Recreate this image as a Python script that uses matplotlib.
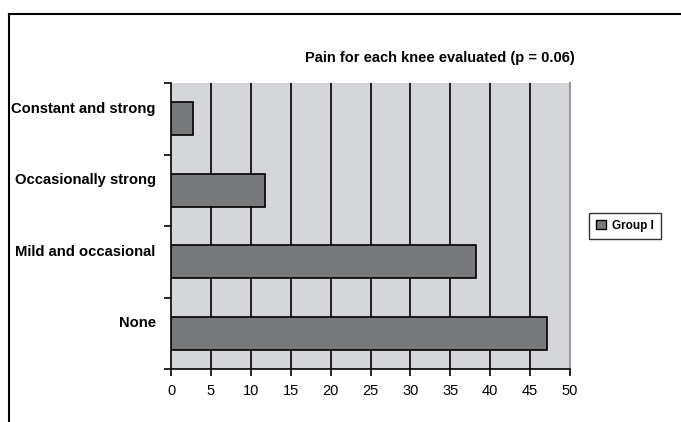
import matplotlib
matplotlib.use("Agg")
import matplotlib.pyplot as plt
from matplotlib.lines import Line2D
from matplotlib.patches import Patch

plt.rcParams['font.family'] = ['Liberation Sans', 'DejaVu Sans']

categories = ["None", "Mild and occasional", "Occasionally strong", "Constant and strong"]
values = [47.1, 38.2, 11.8, 2.8]
xticks = [0, 5, 10, 15, 20, 25, 30, 35, 40, 45, 50]
series_name = "Group I"
title = "Pain for each knee evaluated (p = 0.06)"

W, H = 681, 422
fig = plt.figure(figsize=(W / 100, H / 100), dpi=100)
ax = fig.add_axes([171 / W, 1 - 369 / H, (570 - 171) / W, (369 - 83) / H])
ax.set_facecolor('#d5d6d9')

ypos = list(range(len(categories)))
ax.barh(ypos, values, height=0.46, color='#78797b', edgecolor='black', linewidth=1.2, zorder=3)

ax.set_xlim(0, 50)
ax.set_ylim(-0.5, len(categories) - 0.5)
ax.set_xticks(xticks)
ax.set_xticklabels([str(t) for t in xticks], fontsize=10.5)
for t in xticks[1:-1]:
    ax.axvline(t, color='black', lw=1.2, zorder=2)

ax.set_yticks([i - 0.5 for i in range(len(categories) + 1)])
ax.set_yticklabels([])
ax.set_yticks([i + 0.16 for i in ypos], minor=True)
ax.set_yticklabels(categories, minor=True, fontsize=10.6, fontweight='bold')
ax.tick_params(axis='y', which='minor', length=0, pad=11)
ax.tick_params(axis='y', which='major', length=5, width=1.2, direction='out')
ax.tick_params(axis='x', length=5, width=1.2, direction='out', pad=6)

ax.spines['top'].set_visible(False)
ax.spines['right'].set_color('#999999')
ax.spines['right'].set_linewidth(1.5)
ax.spines['left'].set_linewidth(1.2)
ax.spines['bottom'].set_linewidth(1.2)

fig.text(440 / W, 1 - 58 / H, title, ha='center', va='center', fontsize=10.5, fontweight='bold')

handles = [Patch(facecolor='#78797b', edgecolor='black', linewidth=1.0, label=series_name)]
leg = fig.legend(handles=handles, loc='center', bbox_to_anchor=(625 / W, 1 - 226 / H),
                 frameon=True, fancybox=False, edgecolor='black', handlelength=0.8, handleheight=0.8,
                 handletextpad=0.5, borderpad=0.6, prop={'weight': 'bold', 'size': 8.5})
leg.get_frame().set_linewidth(1.0)

# outer frame (top and left)
fig.add_artist(Line2D([9 / W, 1], [1 - 14 / H, 1 - 14 / H], transform=fig.transFigure, color='black', lw=1.5))
fig.add_artist(Line2D([9 / W, 9 / W], [0, 1 - 14 / H], transform=fig.transFigure, color='black', lw=1.5))

fig.savefig("out.png", dpi=100)
